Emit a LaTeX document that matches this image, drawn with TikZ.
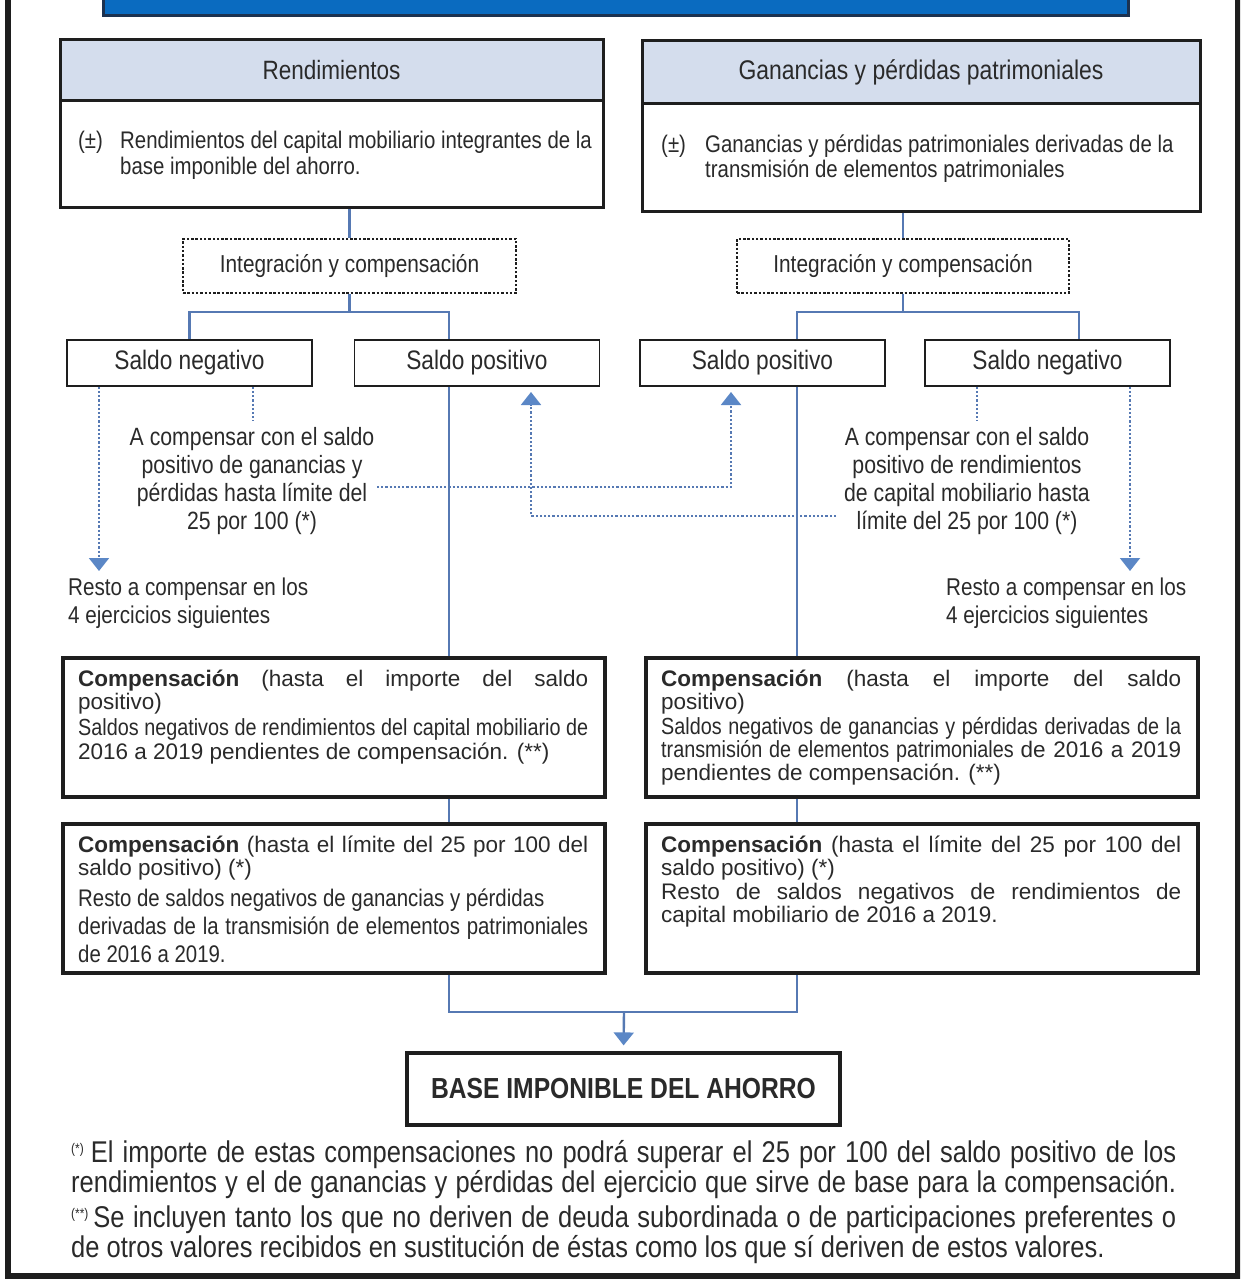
\documentclass[tikz,border=0pt]{standalone}
\usepackage{fontspec}
\setmainfont{Liberation Sans}[FakeStretch=0.85]
\newfontfamily\nw{Liberation Sans}
\usetikzlibrary{arrows.meta,calc}
\definecolor{txt}{HTML}{2A2A2A}
\definecolor{hdrfill}{HTML}{D4DDED}
\definecolor{lnblue}{HTML}{5679B3}
\definecolor{tipblue}{HTML}{5B87C6}
\definecolor{bannerblue}{HTML}{0A6BC0}
\definecolor{bannerdk}{HTML}{1C3250}
\definecolor{frm}{HTML}{1E1E1E}
\newcommand\fs[1]{\fontsize{#1}{#1}\selectfont}
\newcommand\jline[2]{\makebox[#1pt][s]{#2}}
\begin{document}
\begin{tikzpicture}[x=1pt,y=-1pt,
  every node/.style={text=txt, inner sep=0pt},
  hdrbox/.style={draw=frm, line width=3pt, fill=hdrfill},
  bodybox/.style={draw=frm, line width=3pt, fill=white},
  dotbox/.style={draw=frm, line width=2.6pt, dash pattern=on 2.5pt off 1.8pt, fill=white},
  saldobox/.style={draw=frm, line width=1.6pt, fill=white, minimum width=245pt, minimum height=46pt},
  compbox/.style={draw=frm, line width=3.2pt, fill=white},
  conn/.style={draw=lnblue, line width=2.4pt},
  dots/.style={draw=lnblue, line width=2pt, dash pattern=on 2.2pt off 2pt},
  tip/.style={-{Triangle[width=20pt,length=13pt,fill=tipblue,color=tipblue]}},
  ln/.style={anchor=base west}
]
\useasboundingbox (0,0) rectangle (1240,1279);
\clip (0,0) rectangle (1240,1279);

% banner and frame
\draw[fill=bannerblue, draw=bannerdk, line width=3pt] (103,-10) rectangle (1128,16);
\draw[frm, line width=6pt] (8,-10) -- (8,1275.5) -- (1237.5,1275.5) -- (1237.5,-10);

% top boxes
\node[bodybox, minimum width=543pt, minimum height=106pt] (lbody) at (331.5,154) {};
\node[hdrbox, minimum width=543pt, minimum height=61pt] (lhdr) at (331.5,70.5) {\fs{26.5}Rendimientos};
\node[bodybox, minimum width=558pt, minimum height=107pt] (rbody) at (921,157.5) {};
\node[hdrbox, minimum width=558pt, minimum height=63pt] (rhdr) at (921,72.5) {\fs{27}Ganancias y pérdidas patrimoniales};

\node[ln] (lpm) at (78,148) {\fs{24}(±)};
\node[ln] (lb1) at (120,148) {\fs{24}Rendimientos del capital mobiliario integrantes de la};
\node[ln] (lb2) at (120,174) {\fs{24}base imponible del ahorro.};
\node[ln] (rpm) at (661,152) {\fs{24}(±)};
\node[ln] (rb1) at (705,152) {\fs{24}Ganancias y pérdidas patrimoniales derivadas de la};
\node[ln] (rb2) at (705,177) {\fs{24}transmisión de elementos patrimoniales};

% dotted boxes
\node[dotbox, minimum width=333pt, minimum height=54pt] (ldot) at (349.5,266) {\fs{24.5}Integración y compensación};
\node[dotbox, minimum width=332pt, minimum height=54pt] (rdot) at (903,266) {\fs{24.5}Integración y compensación};

% saldo boxes
\node[saldobox] (lneg) at (189.5,363) {\fs{26.7}Saldo negativo};
\node[saldobox] (lpos) at (477,363) {\fs{26.7}Saldo positivo};
\node[saldobox] (rpos) at (762.5,363) {\fs{26.7}Saldo positivo};
\node[saldobox] (rneg) at (1047.5,363) {\fs{26.7}Saldo negativo};

% comp boxes
\node[compbox, minimum width=542pt, minimum height=139pt] (lc1) at (334,727.5) {};
\node[compbox, minimum width=552pt, minimum height=139pt] (rc1) at (922,727.5) {};
\node[compbox, minimum width=542pt, minimum height=149pt] (lc2) at (334,898.5) {};
\node[compbox, minimum width=552pt, minimum height=149pt] (rc2) at (922,898.5) {};

% base box
\node[compbox, minimum width=433pt, minimum height=72pt] (base) at (623.5,1089) {\fs{29}\bfseries BASE IMPONIBLE DEL AHORRO};

% connectors top
\draw[conn] (ldot.north |- lbody.south) -- (ldot.north);
\draw[conn] (rdot.north |- rbody.south) -- (rdot.north);
\coordinate (lpx) at (449,312);
\coordinate (rpx) at (797,312);
\coordinate (rnx) at (1079,312);
\draw[conn] (ldot.south) -- (ldot.south |- lpx);
\draw[conn] (lneg.north) -- (lneg.north |- lpx) -- (lpx) -- (lpx |- lpos.north);
\draw[conn] (rdot.south) -- (rdot.south |- rpx);
\draw[conn] (rpx |- rpos.north) -- (rpx) -- (rnx) -- (rnx |- rneg.north);
\draw[conn] (lpx |- lpos.south) -- (lpx |- lc1.north);
\draw[conn] (lpx |- lc1.south) -- (lpx |- lc2.north);
\draw[conn] (rpx |- rpos.south) -- (rpx |- rc1.north);
\draw[conn] (rpx |- rc1.south) -- (rpx |- rc2.north);
\coordinate (bj) at (624,1012);
\draw[conn] (lpx |- lc2.south) -- (lpx |- bj) -- (rpx |- bj) -- (rpx |- rc2.south);
\draw[conn, tip, shorten >=6pt] (bj) -- (base.north);

% side texts
\node[align=center, font=\fontsize{25}{27.8}\selectfont] (ltxt) at (252,481)
  {A compensar con el saldo\\positivo de ganancias y\\pérdidas hasta límite del\\25 por 100 (*)};
\node[align=center, font=\fontsize{25}{27.8}\selectfont] (rtxt) at (967,481)
  {A compensar con el saldo\\positivo de rendimientos\\de capital mobiliario hasta\\límite del 25 por 100 (*)};
\node[align=left, anchor=west, font=\fontsize{24.3}{28.5}\selectfont] (lrest) at (68,603)
  {Resto a compensar en los\\4 ejercicios siguientes};
\node[align=left, anchor=west, font=\fontsize{24.3}{28.5}\selectfont] (rrest) at (946,603)
  {Resto a compensar en los\\4 ejercicios siguientes};

% dotted connectors
\coordinate (ldn) at (99,571);
\coordinate (rdn) at (1130,571);
\coordinate (lstub) at (253,421);
\coordinate (rstub) at (977,421);
\coordinate (lup) at (531,392);
\coordinate (rup) at (731,392);
\coordinate (lh) at (377,487);
\coordinate (rh) at (836,516);
\draw[dots, tip] (lneg.south -| ldn) -- (ldn);
\draw[dots, tip] (rneg.south -| rdn) -- (rdn);
\draw[dots] (lneg.south -| lstub) -- (lstub);
\draw[dots] (rneg.south -| rstub) -- (rstub);
\draw[dots, tip] (lh) -| (rup);
\draw[dots, tip] (rh) -| (lup);

% comp texts left 1
\node[ln] (l1a) at (78,686) {\jline{510}{\nw\fs{22.5}\textbf{Compensación} (hasta el importe del saldo}};
\node[ln] (l1b) at (78,709) {\nw\fs{22.5}positivo)};
\node[ln] (l1c) at (78,735) {\jline{510}{\fs{23.3}Saldos negativos de rendimientos del capital mobiliario de}};
\node[ln] (l1d) at (78,759) {\nw\fs{22.5}2016 a 2019 pendientes de compensación. (**)};
% left 2
\node[ln] (l2a) at (78,852) {\jline{510}{\nw\fs{22.5}\textbf{Compensación} (hasta el límite del 25 por 100 del}};
\node[ln] (l2b) at (78,875) {\nw\fs{22.5}saldo positivo) (*)};
\node[ln] (l2c) at (78,906) {\fs{24}Resto de saldos negativos de ganancias y pérdidas};
\node[ln] (l2d) at (78,934) {\jline{510}{\fs{24}derivadas de la transmisión de elementos patrimoniales}};
\node[ln] (l2e) at (78,962) {\fs{24}de 2016 a 2019.};
% right 1
\node[ln] (r1a) at (661,686) {\jline{520}{\nw\fs{22.5}\textbf{Compensación} (hasta el importe del saldo}};
\node[ln] (r1b) at (661,709) {\nw\fs{22.5}positivo)};
\node[ln] (r1c) at (661,734) {\jline{520}{\fs{23.3}Saldos negativos de ganancias y pérdidas derivadas de la}};
\node[ln] (r1d) at (661,757) {\jline{520}{\fs{23.3}transmisión de elementos patrimoniales {\nw\fs{22.5}de 2016 a 2019}}};
\node[ln] (r1e) at (661,780) {\nw\fs{22.5}pendientes de compensación. (**)};
% right 2
\node[ln] (r2a) at (661,852) {\jline{520}{\nw\fs{22.5}\textbf{Compensación} (hasta el límite del 25 por 100 del}};
\node[ln] (r2b) at (661,875) {\nw\fs{22.5}saldo positivo) (*)};
\node[ln] (r2c) at (661,899) {\jline{520}{\nw\fs{22.5}Resto de saldos negativos de rendimientos de}};
\node[ln] (r2d) at (661,922) {\nw\fs{22.5}capital mobiliario de 2016 a 2019.};

% footnotes
\node[ln] (f1) at (71,1162) {\jline{1105}{\fs{30}{\fs{14}\raisebox{9pt}{(*)}}\hspace{7pt}El importe de estas compensaciones no podrá superar el 25 por 100 del saldo positivo de los}};
\node[ln] (f2) at (71,1192) {\jline{1105}{\fs{30}rendimientos y el de ganancias y pérdidas del ejercicio que sirve de base para la compensación.}};
\node[ln] (f3) at (71,1227) {\jline{1105}{\fs{30}{\fs{14}\raisebox{9pt}{(**)}}\hspace{5pt}Se incluyen tanto los que no deriven de deuda subordinada o de participaciones preferentes o}};
\node[ln] (f4) at (71,1257) {\fs{30}de otros valores recibidos en sustitución de éstas como los que sí deriven de estos valores.};
\end{tikzpicture}
\end{document}
